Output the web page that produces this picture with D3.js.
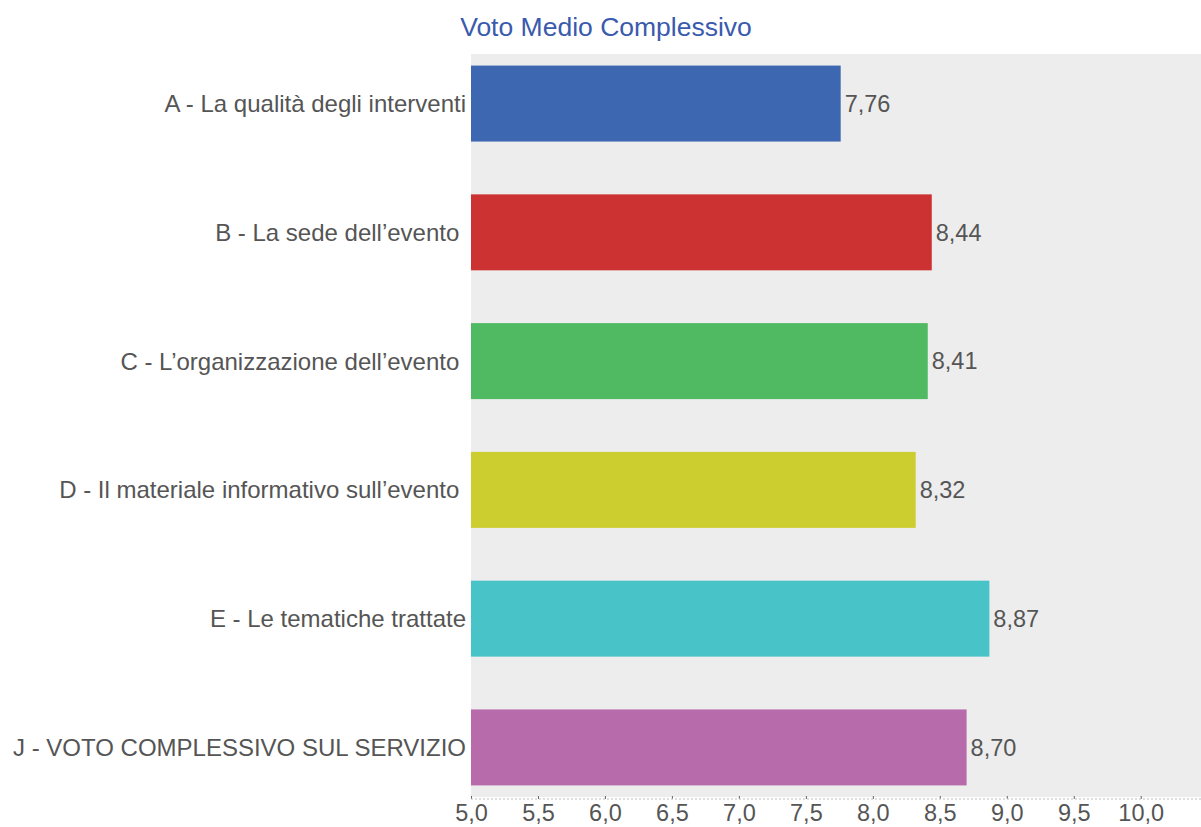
<!DOCTYPE html>
<html>
<head>
<meta charset="utf-8">
<script src="https://cdn.jsdelivr.net/npm/d3@7"></script>
<style>
  html, body { margin: 0; padding: 0; background: #fff; }
  svg text { font-family: "Liberation Sans", Arial, sans-serif; white-space: pre; }
</style>
</head>
<body>
<div id="chart"></div>
<script>
var categories = [
  "A - La qualità degli interventi",
  "B - La sede dell\u2019evento ",
  "C - L\u2019organizzazione dell\u2019evento ",
  "D - Il materiale informativo sull\u2019evento ",
  "E - Le tematiche trattate",
  "J - VOTO COMPLESSIVO SUL SERVIZIO"
];
var values = [7.76, 8.44, 8.41, 8.32, 8.87, 8.70];
var barColors = ["#3d67b1", "#cd3232", "#4fba62", "#cccd2e", "#48c3c8", "#b76bab"];
var tickValues = [5.0, 5.5, 6.0, 6.5, 7.0, 7.5, 8.0, 8.5, 9.0, 9.5, 10.0];
var title = "Voto Medio Complessivo";

(function () {
  "use strict";
  var W = 1201, H = 827;
  var left = 471, right = 1201, top = 54, bottom = 797;

  var fmt = function (v, d) { return v.toFixed(d).replace(".", ","); };

  var svg = d3.select("#chart").append("svg")
    .attr("width", W).attr("height", H);

  var x = d3.scaleLinear().domain([5, 10.45]).range([left, right]);
  var y = d3.scaleBand().domain(categories).range([top, bottom])
    .paddingInner(0.41).paddingOuter(0.09);

  svg.append("rect")
    .attr("x", left).attr("y", top)
    .attr("width", right - left).attr("height", bottom - top)
    .attr("fill", "#ededed");

  svg.append("text")
    .attr("x", 606).attr("y", 36)
    .attr("text-anchor", "middle")
    .attr("font-size", 26.5)
    .attr("fill", "#3a5aad")
    .text(title);

  svg.append("g").selectAll("rect")
    .data(values).join("rect")
    .attr("x", x(5))
    .attr("y", function (d, i) { return y(categories[i]); })
    .attr("width", function (d) { return x(d) - x(5); })
    .attr("height", y.bandwidth())
    .attr("fill", function (d, i) { return barColors[i]; });

  svg.append("g").selectAll("text")
    .data(values).join("text")
    .attr("x", function (d) { return x(d) + 4; })
    .attr("y", function (d, i) { return y(categories[i]) + y.bandwidth() / 2; })
    .attr("dy", "0.35em")
    .attr("font-size", 23.5)
    .attr("fill", "#555")
    .text(function (d) { return fmt(d, 2); });

  svg.append("g").selectAll("text")
    .data(categories).join("text")
    .attr("x", left - 5)
    .attr("y", function (d) { return y(d) + y.bandwidth() / 2; })
    .attr("dy", "0.35em")
    .attr("text-anchor", "end")
    .attr("font-size", 24)
    .attr("fill", "#555")
    .text(function (d) { return d; });

  var axis = d3.axisBottom(x)
    .tickValues(tickValues)
    .tickSize(4)
    .tickFormat(function (d) { return fmt(d, 1); });

  var ax = svg.append("g")
    .attr("transform", "translate(0," + (bottom + 2) + ")")
    .call(axis);
  ax.select(".domain").remove();
  ax.append("line")
    .attr("x1", left).attr("x2", right)
    .attr("y1", 0).attr("y2", 0)
    .attr("stroke", "#bbb")
    .attr("stroke-dasharray", "2,2");
  ax.selectAll(".tick line")
    .attr("y1", -3).attr("y2", 0)
    .attr("stroke", "#666");
  ax.selectAll(".tick text")
    .attr("y", 22)
    .attr("dy", null)
    .attr("font-size", 23.5)
    .attr("font-family", "Liberation Sans, Arial, sans-serif")
    .attr("fill", "#555");
})();
</script>
</body>
</html>
